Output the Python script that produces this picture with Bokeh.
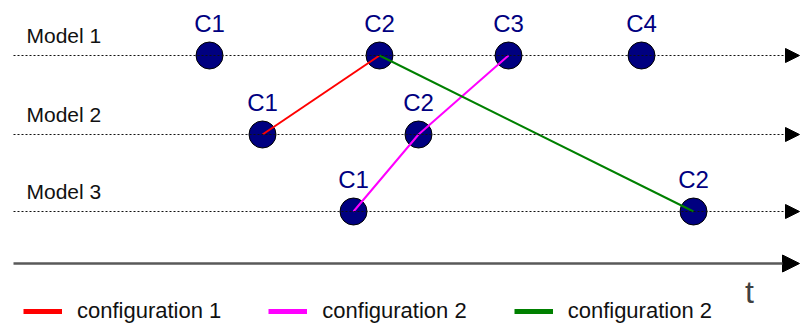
from bokeh.plotting import figure
from bokeh.models import ColumnDataSource, Range1d, Arrow, NormalHead, Legend, LegendItem
from bokeh.core.properties import value
from bokeh.embed import file_html
from bokeh.resources import INLINE

# ---------------- data ----------------
models = ["Model 1", "Model 2", "Model 3"]
event_model = ["Model 1", "Model 1", "Model 1", "Model 1",
               "Model 2", "Model 2",
               "Model 3", "Model 3"]
event_label = ["C1", "C2", "C3", "C4", "C1", "C2", "C1", "C2"]
event_time = [209, 379, 508, 641, 262, 418, 353, 693]

config_labels = ["configuration 1", "configuration 2", "configuration 2"]
config_colors = ["#ff0000", "#ff00ff", "#008000"]
config_paths = [
    [("Model 2", "C1"), ("Model 1", "C2")],
    [("Model 3", "C1"), ("Model 2", "C2"), ("Model 1", "C3")],
    [("Model 1", "C2"), ("Model 3", "C2")],
]
axis_label = "t"

# ---------------- layout ----------------
FONT = "Liberation Sans"
W, H = 800, 325
lane_y = {"Model 1": 55, "Model 2": 134, "Model 3": 211}
time_axis_y = 263
x_start, x_end = 13, 799

p = figure(width=W, height=H, output_backend="svg", toolbar_location=None,
           x_range=Range1d(0, W), y_range=Range1d(H, 0),
           x_axis_location=None, y_axis_location=None,
           min_border=0, min_border_left=0, min_border_right=0,
           min_border_top=0, min_border_bottom=0)
p.outline_line_color = None
p.xgrid.visible = False
p.ygrid.visible = False
p.background_fill_color = "white"
p.border_fill_color = "white"

# model lanes: dotted arrows
lane_src = ColumnDataSource(dict(
    x0=[x_start] * len(models), x1=[x_end] * len(models),
    y=[lane_y[m] for m in models]))
p.add_layout(Arrow(source=lane_src, x_start="x0", y_start="y", x_end="x1", y_end="y",
                   line_color="#111111", line_width=1, line_dash="2 2",
                   end=NormalHead(size=14, fill_color="black", line_color="black", line_width=1)))

# time axis
time_src = ColumnDataSource(dict(x0=[x_start], x1=[x_end], y=[time_axis_y]))
p.add_layout(Arrow(source=time_src, x_start="x0", y_start="y", x_end="x1", y_end="y",
                   line_color="#595959", line_width=2.5,
                   end=NormalHead(size=17, fill_color="black", line_color="black", line_width=1)))
p.text(x=[749], y=[time_axis_y + 28], text=[axis_label], text_font=value(FONT),
       text_font_size="32px", text_color="#404040", text_align="center",
       text_baseline="middle")

# model labels
p.text(x=[26] * len(models), y=[lane_y[m] - 20 for m in models], text=models,
       text_font=value(FONT), text_font_size="21px", text_color="#111111",
       text_align="left", text_baseline="middle")

# events
ev_src = ColumnDataSource(dict(
    t=event_time, y=[lane_y[m] for m in event_model], label=event_label,
    ly=[lane_y[m] - 32 for m in event_model]))
p.scatter("t", "y", source=ev_src, size=27, fill_color="#000080",
          line_color="black", line_width=1)
p.text("t", "ly", text="label", source=ev_src, text_font=value(FONT),
       text_font_size="24px", text_color="#000080", text_align="center",
       text_baseline="middle")

# configurations
lookup = {(m, l): (t, lane_y[m]) for m, l, t in zip(event_model, event_label, event_time)}
items = []
for lbl, col, path in zip(config_labels, config_colors, config_paths):
    xs = [lookup[k][0] for k in path]
    ys = [lookup[k][1] for k in path]
    p.line(xs, ys, line_color=col, line_width=2)
    swatch = p.line([xs[0]], [ys[0]], line_color=col, line_width=5)
    items.append(LegendItem(label=lbl, renderers=[swatch]))

legend = Legend(items=items, orientation="horizontal", location=(23, 1),
                glyph_width=39, glyph_height=20, label_standoff=15, spacing=47,
                padding=0, margin=0, border_line_alpha=0, background_fill_alpha=0,
                label_text_font=FONT, label_text_font_size="22px",
                label_text_color="#111111", label_height=20)
p.add_layout(legend)

open("out.html", "w").write(file_html(p, INLINE))
